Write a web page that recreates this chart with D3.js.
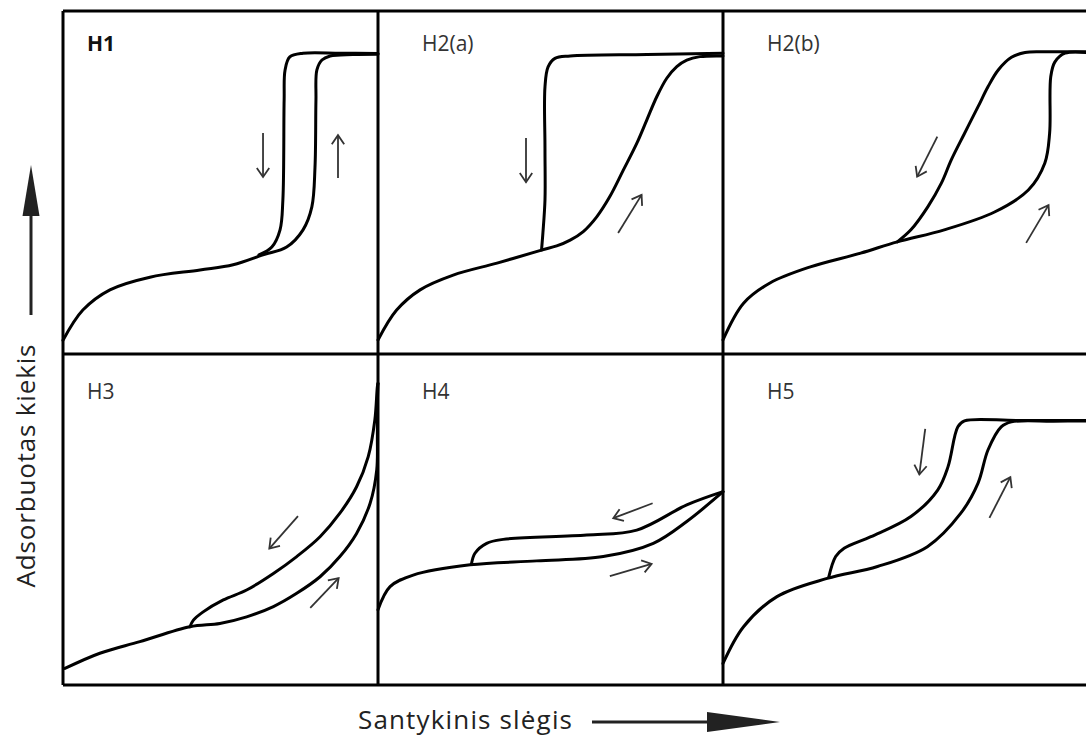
<!DOCTYPE html>
<html>
<head>
<meta charset="utf-8">
<script src="https://cdn.jsdelivr.net/npm/d3@7"></script>
<style>
  body { margin: 0; background: #fff; }
  svg { display: block; }
  text { font-family: "Open Sans", sans-serif; }
</style>
</head>
<body>
<svg id="chart" width="1086" height="737"></svg>
<script>
// Panel names and grid positions
const panelNames = ["H1", "H2(a)", "H2(b)", "H3", "H4", "H5"];

// Curves: [relative pressure %, amount %] inside each panel
const h1Ads = [[0,4],[6.3,12.8],[14.9,18.7],[27.6,22.4],[43.5,24.5],[54,26],[63.5,28.9],[71,31.2],[76.2,36.2],[79,42.9],[80,54.5],[80.3,74],[80.6,82.8],[82.2,85.7],[84.8,86.9],[92,87.3],[100,87.4]];
const h1Des = [[100,87.6],[88,87.7],[76.2,87.7],[72,86.6],[70.5,82.8],[70.2,74],[69.8,44.9],[68.9,36.2],[66.3,31.2],[62.2,28.9]];

const h2aAds = [[0,4.1],[5.4,12.8],[12.2,18.7],[21.8,23],[34.5,26.5],[47.4,30.3],[51.8,31.5],[55.7,33.2],[59.5,35.7],[63.4,40],[67.2,45.9],[71.1,53.6],[75,61.4],[77.9,68.2],[80.8,75],[83.7,80.4],[86.6,83.8],[89.5,85.7],[93.3,86.7],[100,86.9]];
const h2aDes = [[100,87.7],[78,87.3],[55.7,86.9],[51.3,86.2],[49.3,83.7],[48.4,77.9],[48.4,60],[48.4,44.9],[47.8,35.3],[47.4,30.3]];

const h2bAds = [[0,4.1],[5.6,14.8],[12.8,20.7],[23.8,25.4],[37.5,29.4],[47.5,32.7],[60.3,36.2],[74,41.4],[83.2,47.8],[87.7,55.7],[89,64.4],[89.3,80.8],[90.4,85.1],[93.2,87.7],[100,87.8]];
const h2bDes = [[100,88.1],[87.8,88.1],[82.3,87.9],[78.6,86.5],[75,82.8],[72.2,77.9],[69.5,72.1],[65.8,64.3],[62.2,56.6],[59.5,49.8],[55.8,42.9],[51.2,36.2],[47.5,32.7]];

const h3Ads = [[0.6,5],[11.7,9.6],[24.4,13.1],[40.3,17.6],[49.8,18.6],[58.3,20.6],[66.8,23.7],[74.2,27.7],[81.6,32.7],[87.9,38.8],[93.2,45.8],[97.5,54.9],[99.6,65],[99.8,75],[99.8,85],[100,91.1]];
const h3Des = [[100,91.1],[99.8,90.1],[99,80.1],[96.9,69],[93.2,59.9],[87.9,51.9],[81.6,44.8],[74.2,38.8],[66.8,33.7],[58.3,28.7],[50.9,25.7],[44.5,22.1],[41.4,19.6],[40.3,17.6]];

const h4Ads = [[0,22.7],[3.5,29.7],[10.2,33.2],[26.7,36.3],[46,37.5],[65.3,38.8],[79.8,42.8],[89.5,49.4],[100,58.4]];
const h4Des = [[100,58.4],[89.5,54.4],[75,46.8],[60.5,45.3],[36.3,44],[31.5,42.8],[28.1,39.8],[27.1,36.6]];

const h5Ads = [[0,6.5],[5.6,17.6],[14.7,26.7],[28.4,32.2],[42.1,35.8],[55.7,41.8],[64.8,51.9],[69.5,61],[72.2,71],[75.8,78],[78.6,79.5],[90,79.7],[100,79.8]];
const h5Des = [[100,79.9],[80,79.9],[65.8,79.8],[64,78],[61.3,65.9],[58.5,58.9],[51.2,50.9],[40.3,44.8],[33,41.3],[30.7,38.8],[28.8,32.5]];

// Direction arrows per panel: [x1, y1, x2, y2]
const h1Arrows = [[63.5,64.4,63.5,51.6],[87.3,51.3,87.3,63.8]];
const h2aArrows = [[42.9,63,42.9,50.1],[69.6,35.3,76.4,46.4]];
const h2bArrows = [[58.4,63.4,52.9,51.7],[82.6,32.4,88.7,43.4]];
const h3Arrows = [[74.6,51,65.5,41.2],[78.5,23.3,87.5,32.3]];
const h4Arrows = [[79.6,54.9,68.2,50.4],[67.2,32.9,79.3,36.6]];
const h5Arrows = [[55.1,77.4,53.5,63.6],[72.6,50.5,78.3,62.8]];

const curves = [[h1Ads,h1Des],[h2aAds,h2aDes],[h2bAds,h2bDes],[h3Ads,h3Des],[h4Ads,h4Des],[h5Ads,h5Des]];
const arrows = [h1Arrows,h2aArrows,h2bArrows,h3Arrows,h4Arrows,h5Arrows];

const yLabel = "Adsorbuotas kiekis";
const xLabel = "Santykinis slėgis";

// grid layout
const colEdges = [63, 378, 723, 1090];
const rowEdges = [11, 354, 685];

const svg = d3.select("#chart");

const line = d3.line()
    .x(d => d[0]).y(d => d[1])
    .curve(d3.curveCatmullRom.alpha(0.5));

panelNames.forEach((name, i) => {
    const col = i % 3, row = Math.floor(i / 3);
    const x = d3.scaleLinear().domain([0, 100]).range([colEdges[col], colEdges[col + 1]]);
    const y = d3.scaleLinear().domain([0, 100]).range([rowEdges[row + 1], rowEdges[row]]);

    const g = svg.append("g").attr("class", "panel");

    curves[i].forEach(c => {
        g.append("path")
            .attr("d", line(c.map(p => [x(p[0]), y(p[1])])))
            .attr("fill", "none")
            .attr("stroke", "#000")
            .attr("stroke-width", 3)
            .attr("stroke-linejoin", "round")
            .attr("stroke-linecap", "round");
    });

    arrows[i].forEach(a => {
        const x1 = x(a[0]), y1 = y(a[1]), x2 = x(a[2]), y2 = y(a[3]);
        const ang = Math.atan2(y2 - y1, x2 - x1);
        const hl = 11, spread = 0.6;
        const head = [
            [x2 - hl * Math.cos(ang - spread), y2 - hl * Math.sin(ang - spread)],
            [x2, y2],
            [x2 - hl * Math.cos(ang + spread), y2 - hl * Math.sin(ang + spread)]
        ];
        g.append("line")
            .attr("x1", x1).attr("y1", y1).attr("x2", x2).attr("y2", y2)
            .attr("stroke", "#333").attr("stroke-width", 1.8);
        g.append("path")
            .attr("d", d3.line()(head))
            .attr("fill", "none")
            .attr("stroke", "#333").attr("stroke-width", 1.8)
            .attr("stroke-linejoin", "miter");
    });

    g.append("text")
        .attr("x", colEdges[col] + (col === 0 ? 24 : 44))
        .attr("y", rowEdges[row] + (row === 0 ? 40 : 45))
        .attr("font-size", 21)
        .attr("font-weight", i === 0 ? 700 : 400)
        .attr("fill", i === 0 ? "#111" : "#333")
        .text(name);
});

// frame
const frame = svg.append("g").attr("stroke", "#000").attr("stroke-width", 3);
rowEdges.forEach(r => {
    frame.append("line").attr("x1", colEdges[0]).attr("x2", colEdges[3]).attr("y1", r).attr("y2", r);
});
colEdges.forEach(c => {
    frame.append("line").attr("x1", c).attr("x2", c).attr("y1", rowEdges[0]).attr("y2", rowEdges[2]);
});

// axis labels with arrows
svg.append("text")
    .attr("transform", "translate(35,466) rotate(-90)")
    .attr("text-anchor", "middle")
    .attr("font-size", 26)
    .attr("textLength", 243)
    .attr("lengthAdjust", "spacing")
    .attr("fill", "#222")
    .text(yLabel);

svg.append("line").attr("x1", 31).attr("x2", 31).attr("y1", 315).attr("y2", 212)
    .attr("stroke", "#222").attr("stroke-width", 3);
svg.append("path").attr("d", "M22.5,216 L31,165 L39.5,216 Z").attr("fill", "#222");

svg.append("text")
    .attr("x", 358).attr("y", 729)
    .attr("font-size", 26)
    .attr("textLength", 214)
    .attr("lengthAdjust", "spacing")
    .attr("fill", "#222")
    .text(xLabel);

svg.append("line").attr("x1", 592).attr("x2", 710).attr("y1", 722).attr("y2", 722)
    .attr("stroke", "#222").attr("stroke-width", 3);
svg.append("path").attr("d", "M707,712 L780,722 L707,732 Z").attr("fill", "#222");
</script>
</body>
</html>
